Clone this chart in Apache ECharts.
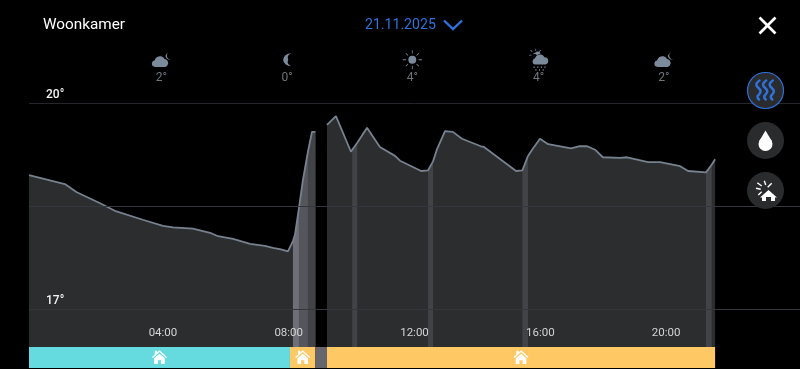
<!DOCTYPE html>
<html><head><meta charset="utf-8">
<style>html,body{margin:0;padding:0;background:#000}#c{width:800px;height:369px}</style>
<script src="https://cdn.jsdelivr.net/npm/echarts@6/dist/echarts.min.js"></script>
</head><body><div id="c"></div>
<script>
const roomName = 'Woonkamer';
const dateLabel = '21.11.2025';
const xTicks = [4, 8, 12, 16, 20];
const yLabelValues = [17, 20];
const gridValues = [17, 18.5, 20];
const weatherHours = [3.95, 7.95, 11.93, 15.95, 19.93];
const weatherTemps = [2, 0, 4, 4, 2];
const morningCurve = [[-0.26,18.95],[0.88,18.82],[1.26,18.70],[2.0,18.54],[2.47,18.43],[3.36,18.30],[4.0,18.21],[4.32,18.19],[4.95,18.17],[5.5,18.11],[5.75,18.06],[6.23,18.02],[6.77,17.95],[7.24,17.92],[7.5,17.89],[7.75,17.87],[7.975,17.84],[8.134,17.99],[8.198,18.08],[8.325,18.47],[8.452,18.88],[8.611,19.29],[8.739,19.58],[8.85,19.58]];
const dayCurve = [[9.216,19.68],[9.502,19.81],[9.979,19.29],[10.02,19.32],[10.18,19.42],[10.49,19.64],[10.9,19.36],[11.38,19.23],[11.54,19.16],[12.21,19.01],[12.43,19.02],[12.59,19.15],[12.71,19.32],[12.97,19.59],[13.22,19.58],[13.51,19.48],[14.11,19.37],[14.21,19.36],[15.23,19.01],[15.43,19.02],[15.61,19.23],[15.74,19.32],[15.99,19.48],[16.25,19.40],[16.98,19.34],[17.23,19.37],[17.49,19.37],[17.74,19.32],[17.99,19.21],[18.54,19.20],[18.76,19.21],[19.43,19.14],[19.81,19.14],[20.45,19.08],[20.7,19.01],[21.27,18.99],[21.45,19.10],[21.56,19.18]];
const heatStrong = [[8.134,17.99],[8.198,18.08],[8.325,18.47]];
const heatMid = [[8.325,18.47],[8.452,18.88],[8.611,19.29]];
const heatLow = [[8.611,19.29],[8.739,19.58],[8.85,19.58],[9,null],[10.02,19.32],[10.18,19.42],[11,null],[12.43,19.02],[12.59,19.15],[13,null],[15.43,19.02],[15.61,19.23],[16,null],[21.27,18.99],[21.45,19.10]];
const modeStart = [-0.26, 8.04, 8.85, 9.216];
const modeEnd = [8.04, 8.85, 9.216, 21.56];
const modeKind = ['comfort', 'eco', 'off', 'eco'];

const modeColor = {comfort:'#65dbe0', eco:'#fec865', off:'#65666e'};
const homeIcon = 'path://M12 1 L8 4.6 L8 2 L4.500 2 L4.500 7.800 L0 12 L1.500 13.500 L12 4 L22.500 13.500 L24 12 ZM12 6.500 L3.500 14 L3.500 23 L9.500 23 L9.500 17 L14.500 17 L14.500 23 L20.500 23 L20.500 14 Z';
const cloudMoonIcon = 'path://M4.500 18a4.300 4.300 0 0 1-.6-8.500a6.300 6.300 0 0 1 11.700-1.500a5.200 5.200 0 0 1 .8 10z M20 0a6 6 0 0 0-3.500 4.500a6 6 0 0 0 6.500 4.500a5 5 0 0 1-4-2.500a5 5 0 0 1 1-6.500z';
const moonIcon = 'path://M15 1a11 11 0 0 0 0 22a9 9 0 0 1-4-11a9 9 0 0 1 4-11z';
const sunIcon = 'path://M12 7a5 5 0 1 0 0 10a5 5 0 1 0 0-10zM11.5 0h1v4h-1zM11.5 20h1v4h-1zM0 11.5h4v1H0zM20 11.5h4v1h-4zM3.4 4.1l.7-.7l2.9 2.9l-.7.7zM17 17.7l.7-.7l2.9 2.9l-.7.7zM20.6 4.1l-.7-.7l-2.9 2.9l.7.7zM7 17.7l-.7-.7l-2.9 2.9l.7.7z';
const rainIcon = 'path://M9 0h.8v2.5H9zM2.2 6.5h2.5v.8H2.2zM3.4 1.8l.6-.6l1.8 1.8l-.6.6zM14.6 1.2l.6.6l-1.6 1.7l-.6-.6zM9.4 4a4 4 0 0 0-3.4 2a3.4 3.4 0 0 1 4.6 1a6 6 0 0 1 4-1.6a3 3 0 0 0-5.2-1.4zM9 17a3.4 3.4 0 0 1-.4-6.7a5.6 5.6 0 0 1 10.4-1.2a4 4 0 0 1 1 7.9zM7 19h1.2v1.6H7zM11 19h1.2v1.6H11zM15 19h1.2v1.6H15zM19 19h1.2v1.6H19zM9 22h1.2v1.6H9zM13 22h1.2v1.6H13zM17 22h1.2v1.6H17z';
const weatherIcons = [cloudMoonIcon, moonIcon, sunIcon, rainIcon, cloudMoonIcon];
const weatherSizes = [[19,14.5], [8,13], [19,19], [19,22], [19,14.5]];
const weatherY = [20.63, 20.63, 20.63, 20.63, 20.63];
const weatherLabelY = [20.36, 20.36, 20.36, 20.36, 20.36];

const fullCurve = [...morningCurve, [9, null], ...dayCurve];
const hhmm = h => String(h).padStart(2, '0') + ':00';
const font = 'Roboto';
const xMin = -0.26, xMax = 24.26;

const chart = echarts.init(document.getElementById('c'), null, {renderer:'canvas'});
const areaSeries = (name, data, color, z) => ({
  name, type:'line', data, z, showSymbol:false, silent:true, animation:false,
  lineStyle:{width:0}, itemStyle:{opacity:0}, areaStyle:{color, opacity:1, origin:'start'}
});
const line = (pts, stroke, w, z) => ({type:'polyline', z:z||21, shape:{points:pts}, style:{stroke, lineWidth:w, fill:null}});
const wave = (x, c) => ({type:'polyline', z:21, shape:{smooth:0.6, points:[[x+1,80.5],[x-1.5,83],[x-2,85.5],[x,88],[x+2,91],[x+.8,94],[x-1,96.5],[x+.5,99.5]]}, style:{stroke:c, lineWidth:2.5, fill:null, lineCap:'round'}});
chart.setOption({
  backgroundColor:'#000',
  animation:false,
  grid:[
    {left:29, right:0, top:0, height:347},
    {left:29, right:0, top:347, height:21}
  ],
  xAxis:[
    {type:'value', gridIndex:0, min:xMin, max:xMax, z:10, axisLine:{show:false}, axisTick:{show:false}, splitLine:{show:false},
     axisLabel:{customValues:xTicks, inside:true, margin:8, color:'#d4d4d4', fontFamily:font, fontSize:11.5, formatter:v=>hhmm(v)}},
    {type:'value', gridIndex:1, min:xMin, max:xMax, show:false}
  ],
  yAxis:[
    {type:'value', gridIndex:0, min:16.447, max:21.5, z:10, axisLine:{show:false}, axisTick:{show:false}, splitLine:{show:false},
     axisLabel:{customValues:yLabelValues, inside:true, margin:17, color:'#f4f4f4', fontWeight:500, fontFamily:font, fontSize:12, verticalAlign:'bottom', lineHeight:16, formatter:v=>v+'°'}},
    {type:'value', gridIndex:1, min:0, max:1, show:false}
  ],
  series:[
    areaSeries('area', fullCurve, '#2c2d2f', 2),
    areaSeries('heatLow', heatLow, '#424347', 3),
    areaSeries('heatMid', heatMid, '#55565c', 3),
    areaSeries('heatStrong', heatStrong, '#6e6f78', 3),
    {name:'temp', type:'line', data:fullCurve, z:4, showSymbol:false, silent:true,
     lineStyle:{color:'#76828f', width:1.8}, itemStyle:{opacity:0},
     markLine:{silent:true, symbol:'none', label:{show:false}, animation:false,
       data:gridValues.map(v=>({yAxis:v, lineStyle:{color:v===20?'#26272b':'#34363d', width:1, type:'solid'}}))}},
    {name:'weather', type:'scatter', z:5, silent:true,
     data:weatherHours.map((h,i)=>({value:[h,weatherY[i]], symbol:weatherIcons[i], symbolSize:weatherSizes[i]})),
     itemStyle:{color:'#7b8b9c', opacity:1}},
    {name:'weatherTemp', type:'scatter', z:5, silent:true, symbolSize:1,
     data:weatherHours.map((h,i)=>[h,weatherLabelY[i],weatherTemps[i]]),
     itemStyle:{color:'transparent', opacity:1},
     label:{show:true, position:'inside', color:'#6f757b', fontFamily:font, fontSize:12, formatter:p=>p.value[2]+'°'}},
    {name:'modes', type:'custom', xAxisIndex:1, yAxisIndex:1, z:6, silent:true,
     data:modeStart.map((s,i)=>[s,modeEnd[i],i]),
     renderItem:(params,api)=>{
       const a = api.coord([api.value(0),1]), b = api.coord([api.value(1),0]);
       return {type:'rect', shape:{x:a[0],y:a[1],width:b[0]-a[0],height:b[1]-a[1]},
               style:{fill:modeColor[modeKind[api.value(2)]]}};
     }},
    {name:'modeIcons', type:'scatter', xAxisIndex:1, yAxisIndex:1, z:7, silent:true, symbol:homeIcon, symbolSize:15, symbolKeepAspect:true,
     data:modeStart.map((s,i)=>[(s+modeEnd[i])/2,0.52]).filter((d,i)=>modeKind[i]!=='off'),
     itemStyle:{color:'#fff', opacity:1}}
  ],
  graphic:[
    {type:'text', left:43, top:18, z:20, style:{text:roomName, fill:'#fff', font:'400 15.3px Roboto'}},
    {type:'text', left:365, top:18, z:20, style:{text:dateLabel, fill:'#2f72dc', font:'400 14.1px Roboto'}},
    line([[444,20.5],[453,29],[462,20.5]], '#2f72dc', 2.4),
    line([[759.5,17.5],[775.5,33.5]], '#fff', 2.6),
    line([[775.5,17.5],[759.5,33.5]], '#fff', 2.6),
    {type:'circle', z:20, shape:{cx:765.5,cy:90.5,r:18}, style:{fill:'#2a2b2d', stroke:'#2f6fd8', lineWidth:1.2}},
    wave(758.5,'#2f72dc'), wave(765.2,'#2f72dc'), wave(771.8,'#2f72dc'),
    {type:'circle', z:20, shape:{cx:765.5,cy:140.5,r:18.5}, style:{fill:'#2a2b2d'}},
    {type:'circle', z:21, shape:{cx:765.5,cy:144,r:7}, style:{fill:'#fff'}},
    {type:'polygon', z:21, shape:{points:[[765.5,130.5],[759.3,141],[771.7,141]]}, style:{fill:'#fff'}},
    {type:'circle', z:20, shape:{cx:765.5,cy:190.5,r:18.5}, style:{fill:'#2a2b2d'}},
    {type:'polygon', z:21, shape:{points:[[768.5,190],[760,197.5],[762,197.5],[762,201],[766,201],[766,197],[771,197],[771,201],[775,201],[775,197.5],[777,197.5]]}, style:{fill:'#fff'}},
    line([[757.3,182.7],[761.7,186]], '#fff', 1.4), line([[756,188.3],[760.7,189.3]], '#fff', 1.4),
    line([[758.3,195],[761.7,191.7]], '#fff', 1.4), line([[764.3,180.7],[765.7,185]], '#fff', 1.4),
    line([[771.7,183.3],[767.7,187.3]], '#fff', 1.4)
  ]
});
</script></body></html>
